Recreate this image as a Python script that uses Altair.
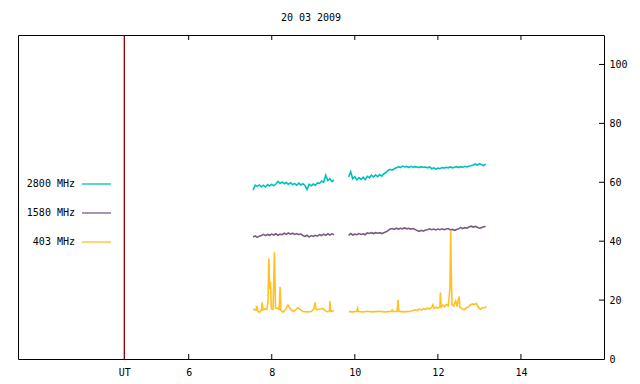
import altair as alt
import pandas as pd

TITLE = "20 03 2009"
SERIES = ["2800 MHz", "1580 MHz", "403 MHz"]
COLORS = ["#00c0c0", "#7a5a80", "#ffc020"]
UT_COLOR = "#8b0000"
UT_POS = 4.45
X_TICKS = [6, 8, 10, 12, 14]
Y_TICKS = [0, 20, 40, 60, 80, 100]

# common time grids (hours UT) for the two radiometer segments
T1 = [7.55, 7.60, 7.65, 7.70, 7.75, 7.80, 7.85, 7.90, 7.95, 8.00,
      8.05, 8.10, 8.15, 8.20, 8.25, 8.30, 8.35, 8.40, 8.45, 8.50,
      8.55, 8.60, 8.65, 8.70, 8.75, 8.80, 8.85, 8.90, 8.95, 9.00,
      9.05, 9.10, 9.15, 9.20, 9.25, 9.30, 9.35, 9.40, 9.45, 9.50]
T2 = [9.85, 9.90, 9.95, 10.00, 10.05, 10.10, 10.15, 10.20, 10.25, 10.30,
      10.35, 10.40, 10.45, 10.50, 10.55, 10.60, 10.65, 10.70, 10.75, 10.80,
      10.85, 10.90, 10.95, 11.00, 11.05, 11.10, 11.15, 11.20, 11.25, 11.30,
      11.35, 11.40, 11.45, 11.50, 11.55, 11.60, 11.65, 11.70, 11.75, 11.80,
      11.85, 11.90, 11.95, 12.00, 12.05, 12.10, 12.15, 12.20, 12.25, 12.30,
      12.35, 12.40, 12.45, 12.50, 12.55, 12.60, 12.65, 12.70, 12.75, 12.80,
      12.85, 12.90, 12.95, 13.00, 13.05, 13.10, 13.15]

F2800_1 = [57.3, 59.0, 58.6, 59.1, 58.5, 59.0, 58.4, 59.2, 58.7, 59.3,
           58.8, 59.4, 60.3, 59.6, 60.1, 59.5, 59.9, 59.3, 59.8, 59.2,
           59.6, 59.0, 59.7, 59.1, 59.5, 58.9, 57.6, 59.3, 58.8, 59.4,
           59.0, 59.8, 59.6, 60.4, 60.0, 62.4, 60.6, 61.2, 60.2, 60.8]
F2800_2 = [61.8, 63.6, 61.2, 61.9, 60.8, 61.6, 61.0, 61.7, 60.9, 62.0,
           61.5, 62.4, 61.8, 62.5, 61.9, 62.6, 62.1, 62.9, 63.3, 64.0,
           64.4, 64.1, 64.6, 64.9, 65.3, 65.0, 65.5, 65.2, 65.4, 65.0,
           65.4, 65.1, 65.3, 65.2, 65.0, 65.3, 65.1, 65.2, 64.9, 65.2,
           64.6, 64.9, 64.5, 64.8, 64.6, 65.0, 64.8, 65.1, 64.9, 65.2,
           64.9, 65.1, 65.3, 65.0, 65.3, 65.1, 65.4, 65.2, 65.5, 65.6,
           65.9, 66.2, 65.8, 66.3, 66.0, 65.6, 66.3]

F1580_1 = [41.4, 41.8, 41.3, 41.7, 41.9, 42.3, 41.9, 42.3, 42.0, 42.4,
           42.1, 42.5, 42.0, 42.4, 42.2, 42.7, 42.3, 42.8, 42.4, 42.7,
           42.3, 42.6, 42.2, 42.5, 41.9, 41.6, 42.0, 41.4, 41.9, 41.6,
           42.0, 41.7, 42.2, 41.9, 42.4, 42.0, 42.5, 42.1, 42.5, 42.2]
F1580_2 = [42.0, 42.6, 42.1, 42.4, 42.2, 42.6, 42.3, 42.5, 42.2, 42.8,
           42.6, 42.9, 42.6, 42.9, 42.7, 42.9, 42.6, 42.9, 43.2, 43.6,
           44.1, 44.3, 44.0, 44.4, 44.1, 44.4, 44.2, 44.5, 44.2, 44.4,
           44.1, 44.3, 44.0, 43.6, 43.3, 43.7, 43.4, 43.8, 43.9, 44.2,
           43.9, 44.1, 43.8, 44.1, 43.9, 44.2, 43.9, 44.1, 44.3, 43.8,
           44.0, 43.7, 44.0, 44.2, 44.6, 44.3, 44.6, 44.4, 44.8, 45.1,
           44.8, 45.0, 44.7, 44.4, 44.6, 44.9, 45.0]

# 403 MHz has its own (burst-resolving) time points
T403_1 = [7.55, 7.62, 7.64, 7.66, 7.70, 7.75, 7.77, 7.79, 7.84, 7.88,
          7.91, 7.93, 7.95, 7.97, 7.99, 8.03, 8.065, 8.09, 8.14, 8.18,
          8.20, 8.22, 8.27, 8.33, 8.39, 8.45, 8.51, 8.57, 8.63, 8.69,
          8.75, 8.85, 8.95, 9.02, 9.04, 9.06, 9.08, 9.13, 9.18, 9.23,
          9.28, 9.35, 9.39, 9.40, 9.42, 9.50]
F403_1 = [16.9, 16.6, 18.0, 16.4, 15.8, 16.5, 19.2, 16.7, 17.0, 16.8,
          19.4, 34.1, 23.8, 26.2, 17.0, 16.9, 36.2, 17.3, 17.2, 16.9,
          24.5, 16.5, 15.9, 16.8, 18.3, 17.0, 16.2, 16.6, 17.4, 16.8,
          16.1, 16.0, 16.1, 17.0, 19.2, 17.5, 16.7, 16.9, 17.0, 17.2,
          16.5, 16.0, 16.3, 19.7, 16.2, 16.4]
T403_2 = [9.86, 9.95, 10.05, 10.07, 10.09, 10.20, 10.30, 10.40, 10.50, 10.60,
          10.70, 10.80, 10.88, 10.90, 10.92, 11.02, 11.04, 11.06, 11.15, 11.25,
          11.35, 11.45, 11.50, 11.55, 11.60, 11.65, 11.70, 11.75, 11.80, 11.85,
          11.88, 11.91, 11.96, 12.01, 12.05, 12.06, 12.08, 12.12, 12.16, 12.21,
          12.25, 12.27, 12.29, 12.31, 12.32, 12.34, 12.38, 12.43, 12.46, 12.51,
          12.53, 12.58, 12.63, 12.68, 12.73, 12.78, 12.83, 12.88, 12.93, 12.97,
          13.02, 13.07, 13.12, 13.17]
F403_2 = [16.1, 16.0, 16.2, 17.2, 16.1, 16.0, 16.2, 16.0, 16.1, 16.2,
          16.0, 16.1, 16.2, 16.6, 16.1, 16.2, 20.1, 16.3, 16.0, 16.1,
          16.2, 16.7, 16.4, 17.0, 16.6, 17.1, 16.8, 17.3, 17.0, 17.5,
          18.4, 17.2, 17.6, 17.3, 17.8, 22.6, 17.6, 18.3, 17.8, 18.5,
          18.0, 20.8, 24.3, 43.5, 30.7, 18.6, 18.0, 19.7, 17.8, 21.2,
          17.6, 17.0, 16.7, 17.3, 17.6, 18.4, 18.7, 18.5, 18.8, 17.6,
          16.9, 17.3, 17.5, 17.6]

rows = []


def add(name, seg, ts, vs):
    assert len(ts) == len(vs), (name, seg, len(ts), len(vs))
    for t, v in zip(ts, vs):
        rows.append({"t": t, "v": v, "series": name, "seg": f"{name}-{seg}"})


add(SERIES[0], 1, T1, F2800_1)
add(SERIES[0], 2, T2, F2800_2)
add(SERIES[1], 1, T1, F1580_1)
add(SERIES[1], 2, T2, F1580_2)
add(SERIES[2], 1, T403_1, F403_1)
add(SERIES[2], 2, T403_2, F403_2)
df = pd.DataFrame(rows)

W, H = 586, 324
FONT = "DejaVu Sans Mono"
x_scale = alt.Scale(domain=[1.89, 16], nice=False, zero=False)
y_scale = alt.Scale(domain=[0, 110], nice=False, zero=False)

X_AXIS = alt.Axis(values=[UT_POS] + X_TICKS,
                  labelExpr="datum.value < 5 ? 'UT' : datum.label",
                  ticks=False, domain=False, grid=False, title=None,
                  labelPadding=8, labelFlush=False, labelOverlap=False)
Y_AXIS = alt.Axis(orient="right", values=Y_TICKS, ticks=False,
                  domain=False, grid=False, title=None,
                  labelPadding=5, labelFlush=False, labelOverlap=False)


def X(field):
    return alt.X(field, scale=x_scale, axis=X_AXIS)


def Y(field):
    return alt.Y(field, scale=y_scale, axis=Y_AXIS)


lines = alt.Chart(df).mark_line(strokeWidth=1.6, clip=True).encode(
    x=X("t:Q"),
    y=Y("v:Q"),
    color=alt.Color("series:N", scale=alt.Scale(domain=SERIES, range=COLORS),
                    legend=None),
    detail="seg:N",
)

ut_rule = alt.Chart(pd.DataFrame({"t": [UT_POS]})).mark_rule(
    color=UT_COLOR, strokeWidth=1.3).encode(x=X("t:Q"))

xt = pd.DataFrame({"t": X_TICKS})
top_ticks = alt.Chart(xt).mark_rule(color="black", strokeWidth=1).encode(
    x=X("t:Q"), y=alt.value(0), y2=alt.value(5))
bot_ticks = alt.Chart(xt).mark_rule(color="black", strokeWidth=1).encode(
    x=X("t:Q"), y=alt.value(H), y2=alt.value(H - 5))
yt = pd.DataFrame({"v": Y_TICKS[1:]})
right_ticks = alt.Chart(yt).mark_rule(color="black", strokeWidth=1).encode(
    y=Y("v:Q"), x=alt.value(W), x2=alt.value(W - 5))

legend_layers = []
for i, (name, col) in enumerate(zip(SERIES, COLORS)):
    yy = 149 + 29 * i
    legend_layers.append(
        alt.Chart(pd.DataFrame({"label": [name]})).mark_text(
            align="right", baseline="middle", font=FONT, fontSize=10,
            color="black").encode(text="label:N", x=alt.value(57), y=alt.value(yy)))
    legend_layers.append(
        alt.Chart(pd.DataFrame({"label": [name]})).mark_rule(
            color=col, strokeWidth=1.3).encode(
            x=alt.value(64), x2=alt.value(93), y=alt.value(yy)))

chart = alt.layer(lines, ut_rule, top_ticks, bot_ticks, right_ticks,
                  *legend_layers).properties(
    width=W, height=H,
    title=alt.TitleParams(TITLE, font=FONT, fontSize=10, fontWeight="normal",
                          anchor="middle", offset=11, color="black"),
    autosize=alt.AutoSizeParams(type="none"),
    padding={"left": 10, "top": 27, "right": 28, "bottom": 17},
    background="white",
).configure_view(stroke="black", strokeWidth=1, fill="white").configure_axis(
    labelFont=FONT, labelFontSize=10, labelColor="black")

chart.save("out.html", embed_options={"renderer": "svg", "actions": False})
